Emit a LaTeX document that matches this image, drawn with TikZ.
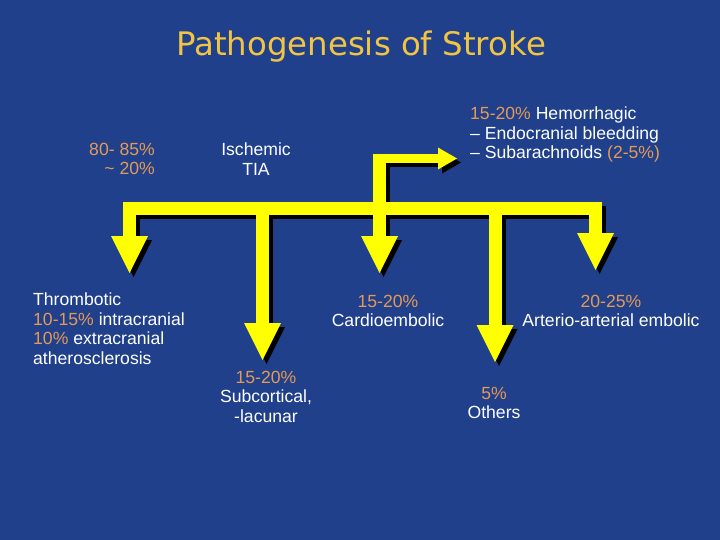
\documentclass[tikz,border=0pt]{standalone}
\usepackage{fontspec}
\setmainfont{Liberation Sans}
\newfontfamily\titrefont{DejaVu Sans}
\usetikzlibrary{arrows.meta}
\definecolor{fond}{HTML}{20408C}
\definecolor{jaune}{HTML}{FFFF00}
\definecolor{ocre}{HTML}{E39A55}
\definecolor{titre}{HTML}{F2C443}
\newcommand{\pc}[1]{\textcolor{ocre}{#1}}

\begin{document}
\begin{tikzpicture}[x=1pt,y=-1pt,
  txt/.style={font=\fontsize{17.6}{19.5}\selectfont,text=white,inner sep=0pt},
  tige/.style={line width=13pt,line join=miter},
  >={Triangle[width=37pt,length=37pt,line width=0pt]}]
  \fill[fond] (0,0) rectangle (720,540);
  \useasboundingbox (0,0) rectangle (720,540);
  \node[font=\titrefont\fontsize{32.4}{38}\selectfont,text=titre,anchor=base] (titre) at (361,56) {Pathogenesis of Stroke};
  % points on the bar, arrow ends
  \foreach \n/\x/\y in {1/129.5/273, 2/262.5/360, 3/379.5/273, 4/495/362, 5/595.5/270} {
    \coordinate (b\n) at (\x,208.5);
    \coordinate (t\n) at (\x,\y);}
  \coordinate (h1) at (379.5,154);
  \coordinate (h2) at (373,158.5);
  \coordinate (h3) at (457,158.5);
  % shadow first, then yellow
  \foreach \c/\d in {black/4pt, jaune/0pt} {
    \begin{scope}[transform canvas={shift={(\d,-\d)}},draw=\c]
      \draw[tige,<->] (t1) -- (b1) -- (b5) -- (t5);
      \foreach \n in {2,3,4} \draw[tige,->] (b\n) -- (t\n);
      \draw[tige] (b3) -- (h1);
      \draw[line width=9pt,-{Triangle[width=22pt,length=19pt,line width=0pt]}] (h2) -- (h3);
    \end{scope}}
  \node[txt,anchor=north east,align=right] (pct) at (155,143) {\pc{80- 85\%}\\\pc{\textasciitilde{} 20\%}};
  \node[txt,anchor=north,align=center] (isch) at (256,143) {Ischemic\\TIA};
  \node[txt,anchor=north west,align=left] (hemo) at (470,107) {\pc{15-20\%} Hemorrhagic\\-- Endocranial bleedding\\-- Subarachnoids \pc{(2-5\%)}};
  \node[txt,anchor=north west,align=left] (thro) at (33,293) {Thrombotic\\\pc{10-15\%} intracranial\\\pc{10\%} extracranial\\atherosclerosis};
  \node[txt,anchor=north,align=center] (lacu) at (266,371) {\pc{15-20\%}\\Subcortical,\\-lacunar};
  \node[txt,anchor=north,align=center] (card) at (388,295) {\pc{15-20\%}\\Cardioembolic};
  \node[txt,anchor=north,align=center] (arte) at (611,295) {\pc{20-25\%}\\Arterio-arterial embolic};
  \node[txt,anchor=north,align=center] (autr) at (494,387) {\pc{5\%}\\Others};
\end{tikzpicture}
\end{document}
